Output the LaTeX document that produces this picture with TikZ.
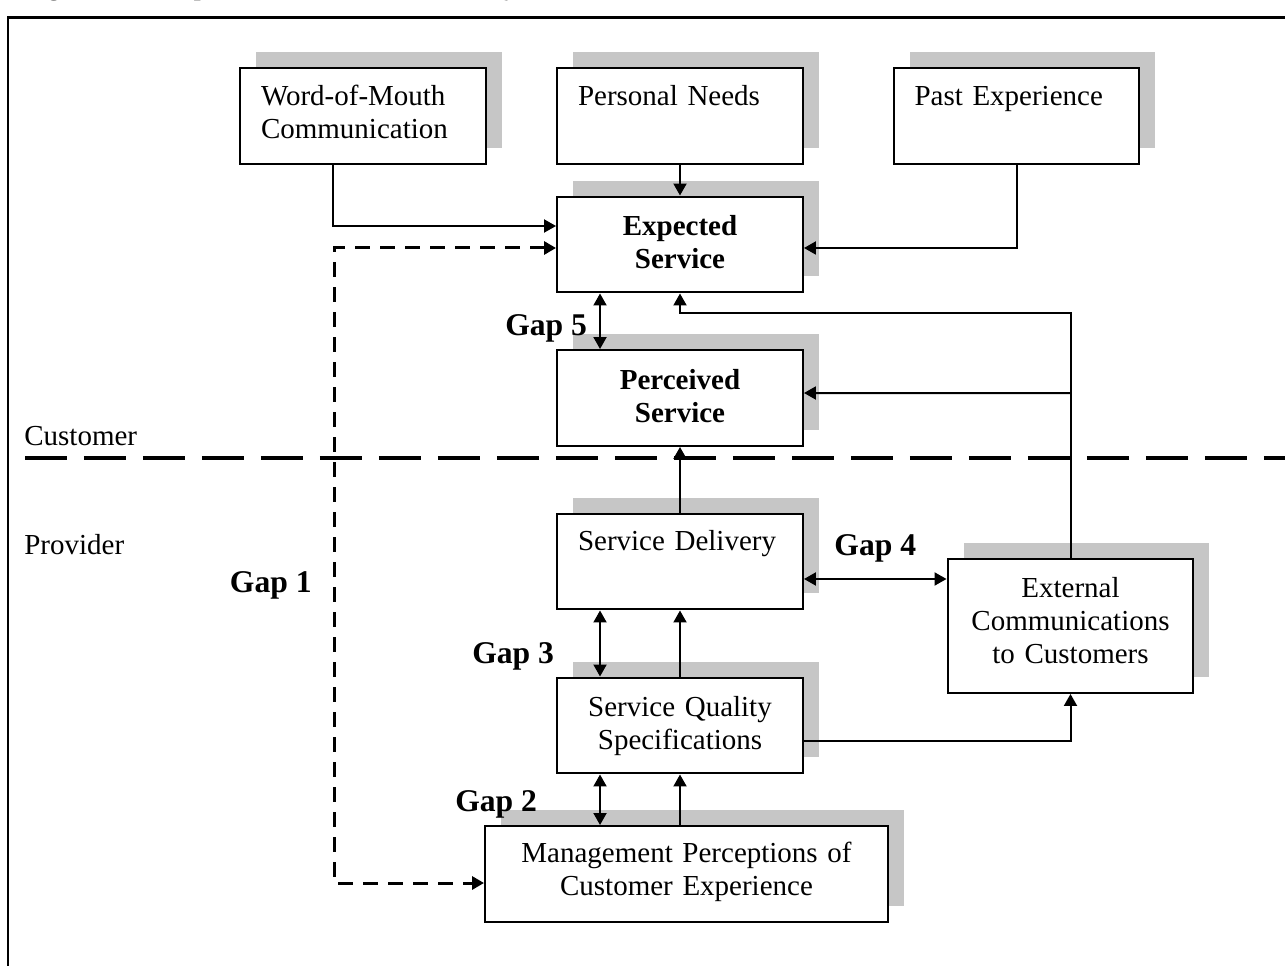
\documentclass[tikz,border=0pt]{standalone}
\usepackage{fontspec}
\setmainfont{Liberation Serif}
\usetikzlibrary{arrows.meta, positioning, shadows}

\tikzset{
  box/.style={draw, line width=0.04cm, fill=white, inner ysep=0pt, minimum width=4.92cm,
    font=\fontsize{16.5}{19}\selectfont,
    drop shadow={shadow xshift=0.32cm, shadow yshift=0.32cm, fill=gray!45, opacity=1}},
  leftbox/.style={box, align=left, text width=4.08cm, inner xsep=0.42cm, text height=0.74cm, text depth=1.18cm},
  ctrbox/.style={box, align=center, text width=4.6cm, inner xsep=0.16cm, text height=0.78cm, text depth=1.14cm},
  arr/.style={line width=0.04cm, -{Triangle[length=0.24cm, width=0.26cm]}},
  arrs/.style={line width=0.04cm, {Triangle[length=0.24cm, width=0.26cm]}-{Triangle[length=0.24cm, width=0.26cm]}},
  gapdash/.style={line width=0.06cm, dash pattern=on 0.3cm off 0.2cm,
    {Triangle[length=0.24cm, width=0.26cm]}-{Triangle[length=0.24cm, width=0.26cm]}},
  gaplabel/.style={inner sep=0pt, font=\fontsize{18}{21}\selectfont\bfseries},
  side/.style={inner sep=0pt, anchor=base west, font=\fontsize{16.5}{19}\selectfont}
}

\begin{document}
\begin{tikzpicture}[x=0.02cm, y=-0.02cm]
    \useasboundingbox (0,0) rectangle (1285,966);
    \node[anchor=base west, inner sep=0pt, font=\fontsize{14}{16}\selectfont\bfseries] (title) at (26,-4) {Figure 1. Conceptual Model of Service Quality};
    \draw[line width=0.06cm] (8,980) -- (8,18) -- (1300,18);

    % customer side
    \node[leftbox] (wom) at (363,116) {Word-of-Mouth\\Communication};
    \node[leftbox] (needs) at (680,116) {Personal Needs};
    \node[leftbox] (past) at (1016.5,116) {Past Experience};
    \node[ctrbox] (exp) at (680,244.5) {\textbf{Expected}\\\textbf{Service}};
    \node[ctrbox] (perc) at (680,398) {\textbf{Perceived}\\\textbf{Service}};

    % provider side
    \node[leftbox] (deliv) at (680,561.5) {Service Delivery};
    \node[ctrbox] (spec) at (680,725.5) {Service Quality\\Specifications};
    \node[ctrbox, minimum width=8.06cm, text width=7.7cm, text height=0.72cm, text depth=1.2cm] (mgmt) at (686.5,874) {Management Perceptions of\\Customer Experience};
    \node[ctrbox, text height=0.76cm, text depth=1.92cm] (ext) at (1070.5,626) {External\\Communications\\to Customers};

    \node[side] (cust) at (24,445) {Customer};
    \node[side] (prov) at (24,554) {Provider};
    \draw[line width=0.08cm, dash pattern=on 0.84cm off 0.34cm] (25,458) -- (1285,458);

    \draw[arr] ([xshift=-0.6cm]wom.south) |- ([yshift=0.37cm]exp.west);
    \draw[arr] (needs.south) -- (exp.north);
    \draw[arr] (past.south) |- ([yshift=-0.07cm]exp.east);
    \coordinate (g1) at (334,585);
    \draw[gapdash] ([yshift=-0.07cm]exp.west) -| (g1) |- ([yshift=-0.18cm]mgmt.west);
    \node[gaplabel, left=0.44cm of g1] (gap1) {Gap 1};

    \draw[arrs] ([xshift=-1.6cm]exp.south) -- ([xshift=-1.6cm]perc.north)
      node[gaplabel, pos=0.62, left=0.24cm] (gap5) {Gap 5};
    \draw[arr] (ext.north) |- ([yshift=-0.4cm]exp.south) -- (exp.south);
    \draw[arr] (ext.north |- perc.east) ++(0,-5) -- ([yshift=0.1cm]perc.east);
    \draw[arr] (deliv.north) -- (perc.south);

    \draw[arrs] ([yshift=-0.35cm]deliv.east) -- ([yshift=-0.35cm]deliv.east -| ext.west)
      node[gaplabel, midway, above=0.32cm] (gap4) {Gap 4};
    \draw[arrs] ([xshift=-1.6cm]deliv.south) -- ([xshift=-1.6cm]spec.north)
      node[gaplabel, pos=0.7, left=0.9cm] (gap3) {Gap 3};
    \draw[arr] (spec.north) -- (deliv.south);
    \draw[arr] ([yshift=-0.3cm]spec.east) -| (ext.south);

    \draw[arrs] ([xshift=-1.6cm]spec.south) -- ([xshift=-1.6cm]spec.south |- mgmt.north)
      node[gaplabel, pos=0.6, left=1.24cm] (gap2) {Gap 2};
    \draw[arr] (spec.south |- mgmt.north) -- (spec.south);
\end{tikzpicture}
\end{document}
